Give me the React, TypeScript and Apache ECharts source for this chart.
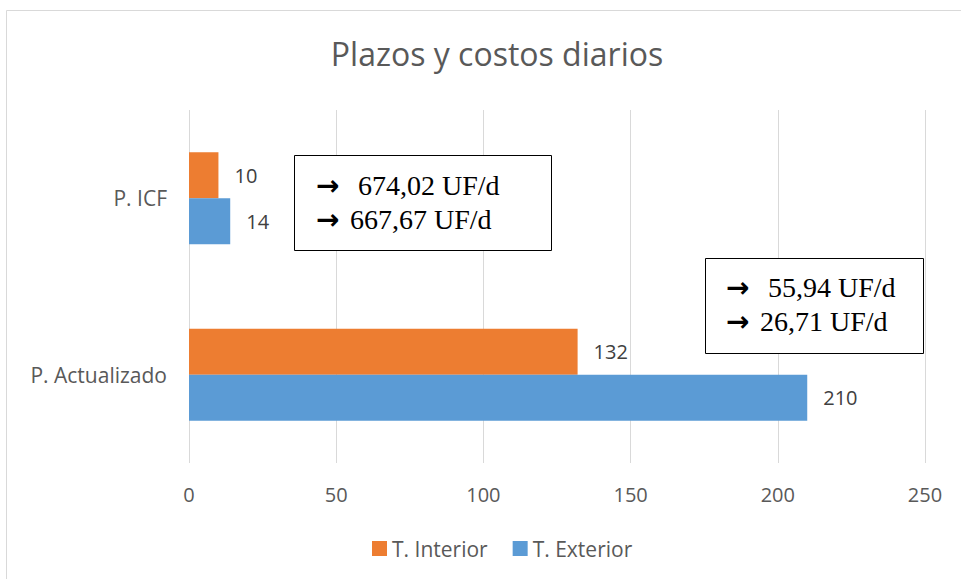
import React, { useEffect, useRef } from "react";
import * as echarts from "echarts";

const categories = ["P. Actualizado", "P. ICF"];
const interior = [132, 10];
const exterior = [210, 14];
const xTicks = { min: 0, max: 250, interval: 50 };
const seriesNames = ["T. Interior", "T. Exterior"];
const boxICF = ["674,02 UF/d", "667,67 UF/d"];
const boxAct = ["55,94 UF/d", "26,71 UF/d"];

export default function App() {
  const ref = useRef<HTMLDivElement>(null);
  useEffect(() => {
    document.body.style.margin = "0";
    const chart = echarts.init(ref.current!, null, { renderer: "svg" });
    const font = "'Open Sans', sans-serif";
    const serif = "'Liberation Serif', 'Times New Roman', serif";
    const labelStyle = {
      show: true,
      position: "right",
      distance: 16,
      color: "#404040",
      fontSize: 20,
      fontFamily: font,
    };
    const boxText = (x: number, y: number, t: string) => ({
      type: "text",
      x,
      y,
      z: 100,
      style: { text: t, fontSize: 28, fontFamily: serif, fill: "#000", verticalAlign: "middle" },
    });
    const arrow = (x: number, y: number) => ({
      type: "text",
      x,
      y,
      z: 100,
      style: {
        text: "→",
        fontSize: 28,
        fontWeight: "bold",
        fontFamily: "'DejaVu Sans', sans-serif",
        fill: "#000",
        verticalAlign: "middle",
      },
    });
    chart.setOption({
      animation: false,
      backgroundColor: "#fff",
      title: {
        text: "Plazos y costos diarios",
        left: 492,
        top: 32,
        textAlign: "center",
        textStyle: { fontSize: 32, fontWeight: "normal", color: "#595959", fontFamily: font },
      },
      legend: {
        data: seriesNames,
        top: 533,
        left: 367,
        itemWidth: 15,
        itemHeight: 15,
        itemGap: 25,
        icon: "rect",
        textStyle: { fontSize: 21, color: "#595959", fontFamily: font },
      },
      grid: { left: 189, right: 36, top: 110, bottom: 116, containLabel: false },
      xAxis: {
        type: "value",
        min: xTicks.min,
        max: xTicks.max,
        interval: xTicks.interval,
        axisLine: { show: false },
        axisTick: { show: false },
        splitLine: { show: true, lineStyle: { color: "#d9d9d9", width: 1 } },
        axisLabel: { color: "#595959", fontSize: 20, fontFamily: font, margin: 21 },
      },
      yAxis: {
        type: "category",
        data: categories,
        axisLine: { show: false },
        axisTick: { show: false },
        axisLabel: { color: "#595959", fontSize: 21, fontFamily: font, margin: 22 },
      },
      series: [
        {
          name: seriesNames[0],
          type: "bar",
          data: interior,
          barWidth: 46,
          barGap: "0%",
          itemStyle: { color: "#ED7D31" },
          label: labelStyle,
        },
        {
          name: seriesNames[1],
          type: "bar",
          data: exterior,
          barWidth: 46,
          barGap: "0%",
          itemStyle: { color: "#5B9BD5" },
          label: labelStyle,
        },
      ],
      graphic: [
        {
          type: "rect",
          z: 100,
          shape: { x: 6.5, y: 10.5, width: 1100, height: 700 },
          style: { fill: "none", stroke: "#d9d9d9", lineWidth: 1 },
          silent: true,
        },
        {
          type: "rect",
          z: 99,
          shape: { x: 294.5, y: 155.5, width: 257, height: 95 },
          style: { fill: "#fff", stroke: "#000", lineWidth: 1 },
        },
        arrow(316, 185),
        boxText(358, 185, boxICF[0]),
        arrow(316, 219),
        boxText(350, 219, boxICF[1]),
        {
          type: "rect",
          z: 99,
          shape: { x: 705.5, y: 258.5, width: 218, height: 95 },
          style: { fill: "#fff", stroke: "#000", lineWidth: 1 },
        },
        arrow(726, 287),
        boxText(768, 287, boxAct[0]),
        arrow(726, 321),
        boxText(760, 321, boxAct[1]),
      ],
    });
    return () => chart.dispose();
  }, []);
  return <div ref={ref} style={{ position: "fixed", left: 0, top: 0, width: 961, height: 579 }} />;
}
